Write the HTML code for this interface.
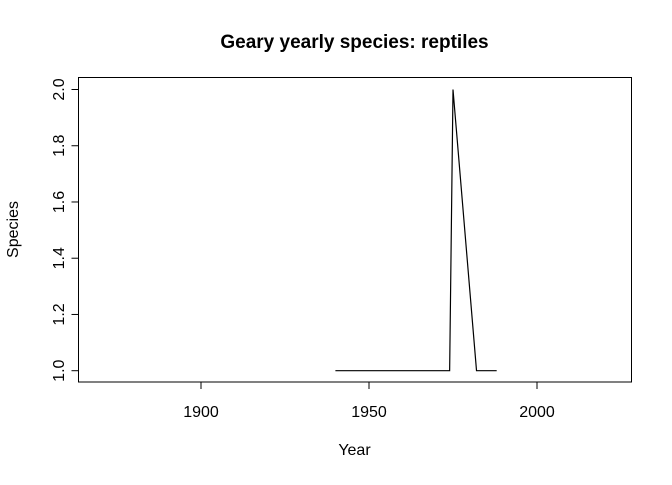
<!DOCTYPE html>
<html><head><meta charset="utf-8"><style>
body{margin:0;background:#fff}
svg text{font-family:"Liberation Sans",Arial,sans-serif;fill:#000}
</style></head><body>
<svg width="672" height="480" xmlns="http://www.w3.org/2000/svg">
<text x="354.5" y="48" text-anchor="middle" font-size="19" font-weight="bold">Geary yearly species: reptiles</text>
<rect x="78.5" y="77.5" width="553" height="304.5" fill="none" stroke="#000"/>
<g id="xaxis"></g>
<g id="yaxis"></g>
<text x="354.5" y="455" text-anchor="middle" font-size="16">Year</text>
<text transform="translate(18,229.5) rotate(-90)" text-anchor="middle" font-size="16">Species</text>
<polyline id="series" fill="none" stroke="#000" stroke-width="1.2"/>
</svg>
<script>
const years = [1940, 1974, 1975, 1982, 1988];
const species = [1, 1, 2, 1, 1];
const xTicks = [1900, 1950, 2000];
const yTicks = [1.0, 1.2, 1.4, 1.6, 1.8, 2.0];
const xs = v => 201 + (v - 1900) * 3.36;
const ys = v => 370.7 - (v - 1) * 281.2;
const NS = "http://www.w3.org/2000/svg";
const xa = document.getElementById('xaxis');
const ya = document.getElementById('yaxis');
function mk(tag, attrs, parent){const e=document.createElementNS(NS,tag);for(const k in attrs)e.setAttribute(k,attrs[k]);parent.appendChild(e);return e;}
let l = mk('line',{x1:xs(xTicks[0]),x2:xs(xTicks[xTicks.length-1]),y1:382,y2:382,stroke:'#000'},xa);


xTicks.forEach(t=>{
  const tk = mk('line',{x1:xs(t),x2:xs(t),y1:382,y2:389,stroke:'#000'},xa);
  
  
  const tx = mk('text',{x:xs(t),y:417,'text-anchor':'middle','font-size':16},xa);
  tx.textContent = t;
  
  
});
l = mk('line',{x1:78.5,x2:78.5,y1:ys(yTicks[0]),y2:ys(yTicks[yTicks.length-1]),stroke:'#000'},ya);


yTicks.forEach(t=>{
  const tk = mk('line',{x1:71.5,x2:78.5,y1:ys(t),y2:ys(t),stroke:'#000'},ya);
  
  
  const tx = mk('text',{transform:`translate(64,${ys(t)}) rotate(-90)`,'text-anchor':'middle','font-size':16},ya);
  tx.textContent = t.toFixed(1);
  
  
});
document.getElementById('series').setAttribute('points', years.map((y,i)=>xs(y)+','+ys(species[i])).join(' '));
</script>
</body></html>
